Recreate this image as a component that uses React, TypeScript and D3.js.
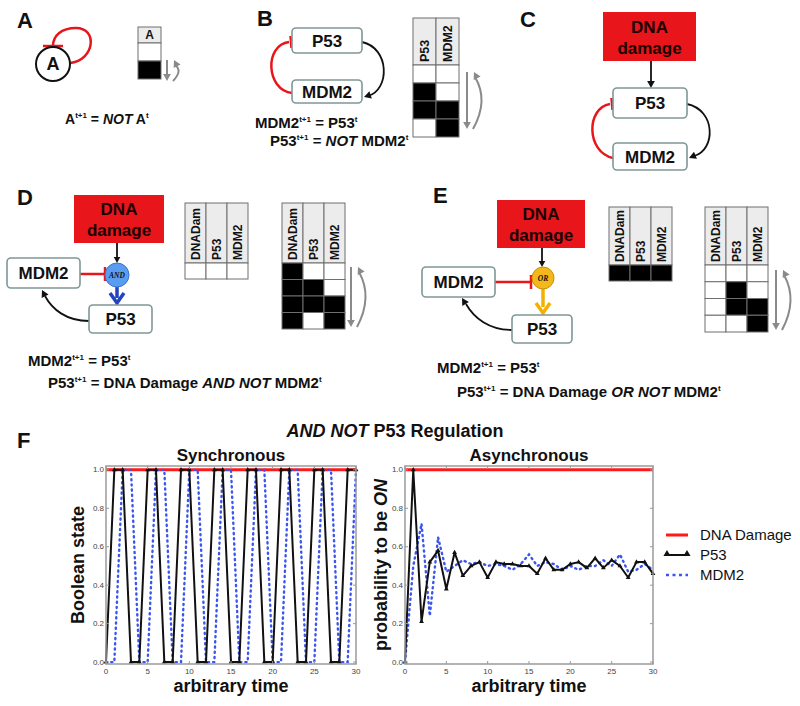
import React from "react";
import * as d3 from "d3";

// ---------- data ----------
const TIME_TICKS = [0, 5, 10, 15, 20, 25, 30];
const STATE_TICKS = [0, 0.2, 0.4, 0.6, 0.8, 1.0];

const SYNC_DNA = [1,1,1,1,1,1,1,1,1,1,1,1,1,1,1,1,1,1,1,1,1,1,1,1,1,1,1,1,1,1,1];
const SYNC_P53 = [0,1,1,0,0,1,1,0,0,1,1,0,0,1,1,0,0,1,1,0,0,1,1,0,0,1,1,0,0,1,1];
const SYNC_MDM2 = [0,0,1,1,0,0,1,1,0,0,1,1,0,0,1,1,0,0,1,1,0,0,1,1,0,0,1,1,0,0,1];

const ASYNC_DNA = [1,1,1,1,1,1,1,1,1,1,1,1,1,1,1,1,1,1,1,1,1,1,1,1,1,1,1,1,1,1,1];
const ASYNC_P53 = [0,1.0,0.21,0.52,0.58,0.38,0.57,0.45,0.5,0.52,0.44,0.52,0.51,0.51,0.5,0.5,0.46,0.54,0.48,0.48,0.51,0.52,0.49,0.54,0.49,0.53,0.5,0.44,0.52,0.52,0.46];
const ASYNC_MDM2 = [0,0.5,0.72,0.24,0.65,0.47,0.5,0.53,0.51,0.52,0.5,0.51,0.5,0.48,0.51,0.56,0.5,0.52,0.51,0.48,0.5,0.48,0.5,0.5,0.53,0.5,0.56,0.47,0.48,0.51,0.48];

const LEGEND = ["DNA Damage", "P53", "MDM2"];

const TABLE_A_HEAD = ["A"];
const TABLE_A_ROWS = [[0], [1]];
const TABLE_B_HEAD = ["P53", "MDM2"];
const TABLE_B_ROWS = [[0, 0], [1, 0], [1, 1], [0, 1]];
const TABLE_HEAD3 = ["DNADam", "P53", "MDM2"];
const TABLE_D1_ROWS = [[0, 0, 0]];
const TABLE_D2_ROWS = [[1, 0, 0], [1, 1, 0], [1, 1, 1], [1, 0, 1]];
const TABLE_E1_ROWS = [[1, 1, 1]];
const TABLE_E2_ROWS = [[0, 0, 0], [0, 1, 0], [0, 1, 1], [0, 0, 1]];

// ---------- styles ----------
const FONT = "Liberation Sans, Arial, Helvetica, sans-serif";
const RED = "#e8161b";
const BOX_STROKE = "#7f9797";
const BLUE = "#3b55ee";

function Head({ x, y, from, size = 7, color = "#111" }: any) {
  const a = Math.atan2(y - from[1], x - from[0]);
  const bx = x - size * Math.cos(a);
  const by = y - size * Math.sin(a);
  const w = size * 0.55;
  const p = [
    [x, y],
    [bx - w * Math.sin(a), by + w * Math.cos(a)],
    [bx + w * Math.sin(a), by - w * Math.cos(a)],
  ];
  return <polygon points={p.map((q) => q.join(",")).join(" ")} fill={color} />;
}

function Bar({ x, y, from, len = 13, color = RED, width = 2.5 }: any) {
  const a = Math.atan2(y - from[1], x - from[0]);
  const dx = (-Math.sin(a) * len) / 2;
  const dy = (Math.cos(a) * len) / 2;
  return <line x1={x - dx} y1={y - dy} x2={x + dx} y2={y + dy} stroke={color} strokeWidth={width} />;
}

function Box({ x, y, w, h, label, size = 17 }: any) {
  return (
    <g>
      <rect x={x} y={y} width={w} height={h} rx={4} fill="#fff" stroke={BOX_STROKE} strokeWidth={1.6} />
      <text x={x + w / 2} y={y + h / 2} dy="0.36em" textAnchor="middle" fontSize={size} fontWeight="bold" fill="#111">
        {label}
      </text>
    </g>
  );
}

function DnaBox({ x, y, w, h }: any) {
  return (
    <g>
      <rect x={x} y={y} width={w} height={h} fill={RED} />
      <text x={x + w / 2} y={y + h * 0.42} textAnchor="middle" fontSize={17} fontWeight="bold" fill="#1a0000">DNA</text>
      <text x={x + w / 2} y={y + h * 0.85} textAnchor="middle" fontSize={17} fontWeight="bold" fill="#1a0000">damage</text>
    </g>
  );
}

function Table({ x, y, colW, headH, rowH, head, rows, rotate = true, fs = 12 }: any) {
  const els: any[] = [];
  head.forEach((h: string, j: number) => {
    const cx = x + j * colW;
    els.push(<rect key={"h" + j} x={cx} y={y} width={colW} height={headH} fill="#ececec" stroke="#6f6f6f" strokeWidth={1} />);
    if (rotate) {
      els.push(
        <text key={"t" + j} transform={`translate(${cx + colW / 2 + fs * 0.36},${y + headH - 3}) rotate(-90)`} fontSize={fs} fontWeight="bold" fill="#111">
          {h}
        </text>
      );
    } else {
      els.push(
        <text key={"t" + j} x={cx + colW / 2} y={y + headH / 2} dy="0.36em" textAnchor="middle" fontSize={fs} fontWeight="bold" fill="#111">
          {h}
        </text>
      );
    }
  });
  rows.forEach((r: number[], i: number) =>
    r.forEach((v: number, j: number) =>
      els.push(
        <rect key={`c${i}-${j}`} x={x + j * colW} y={y + headH + i * rowH} width={colW} height={rowH} fill={v ? "#000" : "#fff"} stroke="#6f6f6f" strokeWidth={1} />
      )
    )
  );
  return <g>{els}</g>;
}

function Cycle({ x, y1, y2, bulge = 16 }: any) {
  const c = "#8a8a8a";
  return (
    <g>
      <line x1={x} y1={y1} x2={x} y2={y2 - 6} stroke={c} strokeWidth={2} />
      <Head x={x} y={y2} from={[x, y1]} size={7} color={c} />
      <path d={`M${x + 6},${y2} Q${x + bulge + 6},${(y1 + y2) / 2} ${x + 8},${y1 + 5}`} fill="none" stroke={c} strokeWidth={2} />
      <Head x={x + 7} y={y1} from={[x + 12, y1 + 10]} size={7} color={c} />
    </g>
  );
}

function Eq({ x, y, parts, fs = 15 }: any) {
  // parts: [text, kind] kind: n (normal), i (italic), s (superscript)
  return (
    <text x={x} y={y} fontSize={fs} fontWeight="bold" fill="#111">
      {parts.map((p: any, k: number) => {
        const prevSup = k > 0 && parts[k - 1][1] === "s";
        if (p[1] === "s")
          return <tspan key={k} fontSize={8} dy={-6}>{p[0]}</tspan>;
        return (
          <tspan key={k} dy={prevSup ? 6 : 0} fontStyle={p[1] === "i" ? "italic" : "normal"}>
            {p[0]}
          </tspan>
        );
      })}
    </text>
  );
}

function Plot({ x0, x1, y0, y1, dna, p53, mdm2, title, ylabel, ylabelX }: any) {
  const x = d3.scaleLinear().domain([0, 30]).range([x0, x1]);
  const y = d3.scaleLinear().domain([-0.01, 1.02]).range([y1, y0]);
  const line = d3.line<number>().x((_d, i) => x(i)).y((d) => y(d));
  const tri = d3.symbol().type(d3.symbolTriangle).size(10)();
  const frame = "#9a9a9a";
  return (
    <g>
      <rect x={x0} y={y0} width={x1 - x0} height={y1 - y0} fill="#fff" stroke="none" />
      <path d={line(dna) || ""} fill="none" stroke="#ff1a1a" strokeWidth={3} />
      <path d={line(mdm2) || ""} fill="none" stroke={BLUE} strokeWidth={2.4} strokeDasharray="1.2,4" strokeLinecap="round" />
      <path d={line(p53) || ""} fill="none" stroke="#111" strokeWidth={2} strokeLinejoin="round" />
      {p53.map((d: number, i: number) => (
        <path key={i} d={tri || ""} transform={`translate(${x(i)},${y(d)})`} fill="#111" />
      ))}
      <rect x={x0} y={y0} width={x1 - x0} height={y1 - y0} fill="none" stroke={frame} strokeWidth={1.5} />
      {TIME_TICKS.map((t) => (
        <g key={"x" + t}>
          <line x1={x(t)} x2={x(t)} y1={y1} y2={y1 - 3} stroke={frame} />
          <line x1={x(t)} x2={x(t)} y1={y0} y2={y0 + 3} stroke={frame} />
          <text x={x(t)} y={y1 + 10} textAnchor="middle" fontSize={8} fill="#444">{t}</text>
        </g>
      ))}
      {STATE_TICKS.map((t) => (
        <g key={"y" + t}>
          <line x1={x0} x2={x0 + 3} y1={y(t)} y2={y(t)} stroke={frame} />
          <line x1={x1} x2={x1 - 3} y1={y(t)} y2={y(t)} stroke={frame} />
          <text x={x0 - 2} y={y(t)} dy="0.33em" textAnchor="end" fontSize={8} fill="#444">{d3.format(".1f")(t)}</text>
        </g>
      ))}
      <text x={(x0 + x1) / 2} y={y0 - 5} textAnchor="middle" fontSize={17} fontWeight="bold" fill="#111">{title}</text>
      <text x={(x0 + x1) / 2} y={y1 + 28} textAnchor="middle" fontSize={18} fontWeight="bold" fill="#111">arbitrary time</text>
      <text transform={`translate(${ylabelX},${(y0 + y1) / 2}) rotate(-90)`} textAnchor="middle" fontSize={18} fontWeight="bold" fill="#111">
        {ylabel}
      </text>
    </g>
  );
}

export default function App() {
  return (
    <svg width={800} height={706} style={{ position: "absolute", left: 0, top: 0, fontFamily: FONT }}>
      <rect width={800} height={706} fill="#fff" />
      {/* Panel letters */}
      {[["A", 17, 28], ["B", 257, 26], ["C", 520, 27], ["D", 17, 205], ["E", 433, 203], ["F", 17, 448]].map((l: any) => (
        <text key={l[0]} x={l[1]} y={l[2]} fontSize={22} fontWeight="bold" fill="#111">{l[0]}</text>
      ))}

      {/* ---------- A ---------- */}
      <path d="M70,63 C95,60 98,28 76,28 C61,28 53,36 53,46" fill="none" stroke={RED} strokeWidth={2.5} />
      <line x1={43} y1={46} x2={63} y2={46} stroke={RED} strokeWidth={2.5} />
      <circle cx={53} cy={64} r={17} fill="#fff" stroke="#111" strokeWidth={2} />
      <text x={53} y={64} dy="0.36em" textAnchor="middle" fontSize={18} fontWeight="bold" fill="#111">A</text>
      <Table x={138} y={27} colW={23} headH={16} rowH={18} head={TABLE_A_HEAD} rows={TABLE_A_ROWS} rotate={false} fs={12} />
      <Cycle x={167} y1={60} y2={81} bulge={10} />
      <Eq x={65} y={124} fs={14} parts={[["A", "n"], ["t+1", "s"], [" = ", "n"], ["NOT", "i"], [" A", "n"], ["t", "s"]]} />

      {/* ---------- B ---------- */}
      <path d="M292,93 C266,90 264,45 289,42" fill="none" stroke={RED} strokeWidth={2.5} />
      <Bar x={291} y={42} from={[264, 44]} len={12} />
      <path d="M362,42 C390,48 390,90 368,96" fill="none" stroke="#111" strokeWidth={1.8} />
      <Head x={364} y={97} from={[385, 90]} size={7} />
      <Box x={292} y={28} w={70} h={25} label="P53" />
      <Box x={292} y={80} w={70} h={23} label="MDM2" />
      <Table x={413} y={18} colW={23} headH={47} rowH={18} head={TABLE_B_HEAD} rows={TABLE_B_ROWS} fs={12.5} />
      <Cycle x={467} y1={72} y2={129} bulge={16} />
      <Eq x={255} y={128} parts={[["MDM2", "n"], ["t+1", "s"], [" = P53", "n"], ["t", "s"]]} />
      <Eq x={270} y={146} parts={[["P53", "n"], ["t+1", "s"], [" = ", "n"], ["NOT", "i"], [" MDM2", "n"], ["t", "s"]]} />

      {/* ---------- C ---------- */}
      <DnaBox x={603} y={12} w={93} h={49} />
      <line x1={651} y1={61} x2={651} y2={82} stroke="#111" strokeWidth={1.8} />
      <Head x={651} y={88} from={[651, 61]} size={7} />
      <path d="M613,158 C586,152 586,108 610,104" fill="none" stroke={RED} strokeWidth={2.5} />
      <Bar x={612} y={104} from={[588, 106]} len={12} />
      <path d="M687,104 C716,110 716,150 694,156" fill="none" stroke="#111" strokeWidth={1.8} />
      <Head x={689} y={158} from={[708, 150]} size={7} />
      <Box x={613} y={88} w={74} h={30} label="P53" />
      <Box x={613} y={143} w={74} h={27} label="MDM2" />

      {/* ---------- D ---------- */}
      <DnaBox x={74} y={195} w={90} h={48} />
      <line x1={117} y1={243} x2={117} y2={258} stroke="#111" strokeWidth={1.8} />
      <Head x={117} y={263} from={[117, 243]} size={6} />
      <line x1={80} y1={274} x2={104} y2={274} stroke={RED} strokeWidth={2.5} />
      <Bar x={105} y={274} from={[80, 274]} len={14} />
      <line x1={117} y1={287} x2={117} y2={298} stroke="#2143c4" strokeWidth={3.5} />
      <path d="M110,293 L117,303 L124,293" fill="none" stroke="#2143c4" strokeWidth={3.5} />
      <circle cx={117} cy={275} r={12} fill="#5a9cf0" stroke="#3a72d0" strokeWidth={1} />
      <text x={117} y={275} dy="0.35em" textAnchor="middle" fontSize={7.5} fontStyle="italic" fontWeight="bold" fontFamily="Liberation Serif, serif" fill="#111">AND</text>
      <path d="M89,321 C66,321 52,309 45,296" fill="none" stroke="#111" strokeWidth={1.8} />
      <Head x={42} y={290} from={[47, 300]} size={7} />
      <Box x={7} y={258} w={73} h={30} label="MDM2" />
      <Box x={89} y={305} w={63} h={28} label="P53" />
      <Table x={185} y={203} colW={21} headH={60} rowH={16} head={TABLE_HEAD3} rows={TABLE_D1_ROWS} />
      <Table x={282} y={203} colW={21} headH={60} rowH={16.5} head={TABLE_HEAD3} rows={TABLE_D2_ROWS} />
      <Cycle x={351} y1={267} y2={327} bulge={16} />
      <Eq x={28} y={366} parts={[["MDM2", "n"], ["t+1", "s"], [" = P53", "n"], ["t", "s"]]} />
      <Eq x={48} y={388} parts={[["P53", "n"], ["t+1", "s"], [" = DNA Damage ", "n"], ["AND NOT", "i"], [" MDM2", "n"], ["t", "s"]]} />

      {/* ---------- E ---------- */}
      <DnaBox x={497} y={200} w={88} h={48} />
      <line x1={542} y1={248} x2={542} y2={261} stroke="#111" strokeWidth={1.8} />
      <Head x={542} y={267} from={[542, 248]} size={6} />
      <line x1={495} y1={282} x2={530} y2={282} stroke={RED} strokeWidth={2.5} />
      <Bar x={531} y={282} from={[495, 282]} len={14} />
      <line x1={543} y1={289} x2={543} y2={307} stroke="#f2b000" strokeWidth={3.5} />
      <path d="M536,303 L543,313 L550,303" fill="none" stroke="#f2b000" strokeWidth={3.5} />
      <circle cx={543} cy={278} r={11} fill="#f4b81c" stroke="#c99000" strokeWidth={1} />
      <text x={543} y={278} dy="0.35em" textAnchor="middle" fontSize={7.5} fontStyle="italic" fontWeight="bold" fontFamily="Liberation Serif, serif" fill="#111">OR</text>
      <path d="M512,330 C489,330 474,318 466,304" fill="none" stroke="#111" strokeWidth={1.8} />
      <Head x={462} y={298} from={[468, 308]} size={7} />
      <Box x={422} y={267} w={73} h={30} label="MDM2" />
      <Box x={512} y={315} w={60} h={28} label="P53" />
      <Table x={609} y={207} colW={21} headH={58} rowH={16} head={TABLE_HEAD3} rows={TABLE_E1_ROWS} />
      <Table x={705} y={207} colW={21} headH={58} rowH={16.75} head={TABLE_HEAD3} rows={TABLE_E2_ROWS} />
      <Cycle x={776} y1={270} y2={330} bulge={16} />
      <Eq x={437} y={373} parts={[["MDM2", "n"], ["t+1", "s"], [" = P53", "n"], ["t", "s"]]} />
      <Eq x={457} y={397} parts={[["P53", "n"], ["t+1", "s"], [" = DNA Damage ", "n"], ["OR NOT", "i"], [" MDM2", "n"], ["t", "s"]]} />

      {/* ---------- F ---------- */}
      <text x={395} y={437} textAnchor="middle" fontSize={18} fontWeight="bold" fill="#111">
        <tspan fontStyle="italic">AND NOT</tspan> P53 Regulation
      </text>
      <Plot x0={106} x1={356} y0={466} y1={664} dna={SYNC_DNA} p53={SYNC_P53} mdm2={SYNC_MDM2} title="Synchronous" ylabel="Boolean state" ylabelX={84} />
      <Plot
        x0={405} x1={653} y0={466} y1={664} dna={ASYNC_DNA} p53={ASYNC_P53} mdm2={ASYNC_MDM2} title="Asynchronous" ylabelX={387}
        ylabel={<>probability to be <tspan fontStyle="italic">ON</tspan></>}
      />
      {/* legend */}
      <line x1={666} x2={688} y1={535} y2={535} stroke="#ff1a1a" strokeWidth={3} />
      <line x1={666} x2={688} y1={555} y2={555} stroke="#111" strokeWidth={2} />
      <path d={d3.symbol().type(d3.symbolTriangle).size(22)() || ""} transform="translate(667,554)" fill="#111" />
      <path d={d3.symbol().type(d3.symbolTriangle).size(22)() || ""} transform="translate(687,554)" fill="#111" />
      <line x1={666} x2={688} y1={575} y2={575} stroke={BLUE} strokeWidth={2.4} strokeDasharray="3,3.5" />
      {LEGEND.map((l, i) => (
        <text key={l} x={700} y={535 + i * 20} dy="0.36em" fontSize={15} fill="#111">{l}</text>
      ))}
    </svg>
  );
}
